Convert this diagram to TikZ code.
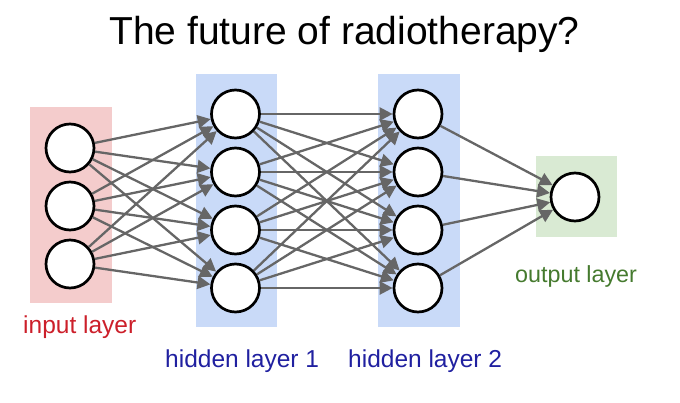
\documentclass[tikz,border=0pt]{standalone}
\usepackage{fontspec}
\setmainfont{Liberation Sans}
\usetikzlibrary{arrows.meta}
\definecolor{inbg}{HTML}{F4CCCC}
\definecolor{hidbg}{HTML}{C9DAF8}
\definecolor{outbg}{HTML}{D9EAD3}
\definecolor{inlab}{HTML}{CC1F2A}
\definecolor{hidlab}{HTML}{2020A0}
\definecolor{outlab}{HTML}{457A2E}
\definecolor{edgegray}{HTML}{666666}
\begin{document}
\begin{tikzpicture}[x=1pt,y=-1pt,
  neuron/.style={circle,draw=black,fill=white,line width=2.7pt,minimum size=48pt,inner sep=0pt},
  conn/.style={draw=edgegray,line width=2.3pt,-{Triangle[length=13pt,width=13pt]}},
  lab/.style={anchor=base west,inner sep=0pt,font=\fontsize{24.5}{29}\selectfont},
  bgbox/.style={draw=none}
]
\useasboundingbox (0,0) rectangle (680,402);
% background boxes
\fill[inbg] (30,107) rectangle (112,303);
\fill[hidbg] (196,74) rectangle (277,327);
\fill[hidbg] (378,74) rectangle (460,327);
\fill[outbg] (536,156) rectangle (617,237);
% title
\node[anchor=base west,inner sep=0pt,font=\fontsize{39}{46}\selectfont] (title) at (109,44) {The future of radiotherapy?};
% neurons
\node[neuron] (i1) at (70,148) {};
\node[neuron] (i2) at (70,206) {};
\node[neuron] (i3) at (70,264) {};
\node[neuron] (a1) at (235.5,114) {};
\node[neuron] (a2) at (235.5,172) {};
\node[neuron] (a3) at (235.5,230) {};
\node[neuron] (a4) at (235.5,288) {};
\node[neuron] (b1) at (418,114) {};
\node[neuron] (b2) at (418,172) {};
\node[neuron] (b3) at (418,230) {};
\node[neuron] (b4) at (418,288) {};
\node[neuron] (o1) at (575,197) {};
% connections
\foreach \s in {i1,i2,i3}
  \foreach \t in {a1,a2,a3,a4}
    \draw[conn] (\s) -- (\t);
\foreach \s in {a1,a2,a3,a4}
  \foreach \t in {b1,b2,b3,b4}
    \draw[conn] (\s) -- (\t);
\foreach \s in {b1,b2,b3,b4}
  \draw[conn] (\s) -- (o1);
% labels
\node[lab,text=inlab] (linput) at (23,333) {input layer};
\node[lab,text=hidlab] (lh1) at (165,367) {hidden layer 1};
\node[lab,text=hidlab] (lh2) at (348,367) {hidden layer 2};
\node[lab,text=outlab,font=\fontsize{23.3}{28}\selectfont] (lout) at (515,282) {output layer};
\end{tikzpicture}
\end{document}
